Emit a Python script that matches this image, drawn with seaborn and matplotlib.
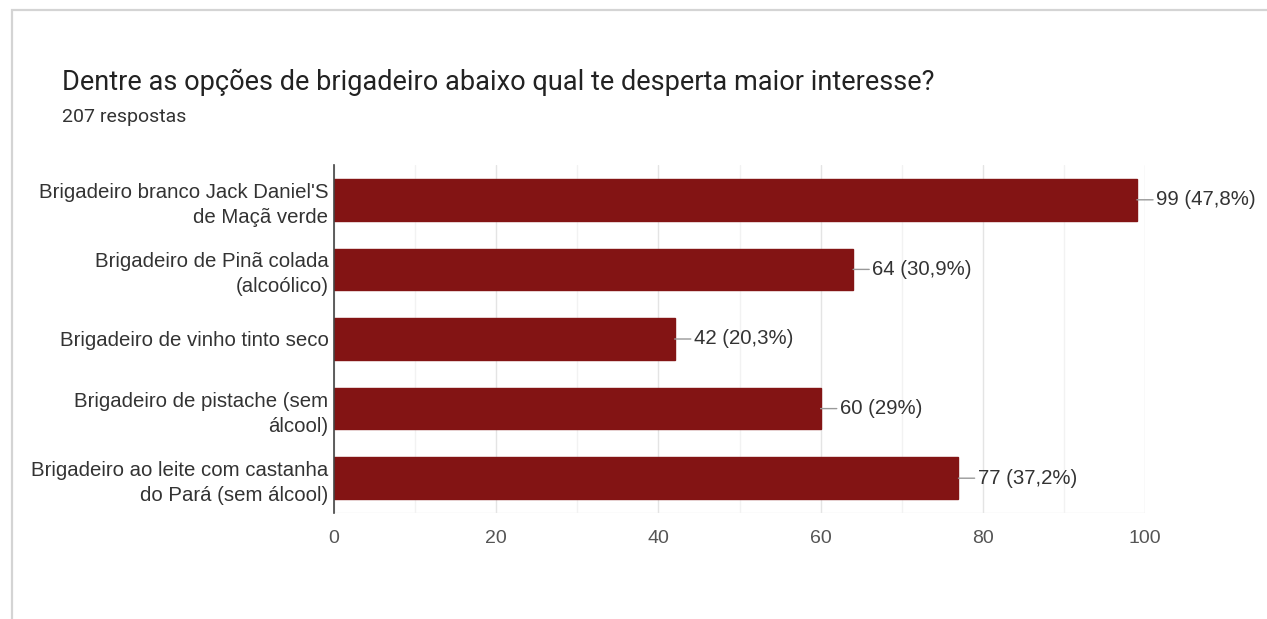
import matplotlib
matplotlib.use("Agg")
import matplotlib.pyplot as plt
import seaborn as sns
import pandas as pd
from matplotlib.patches import Rectangle

categories = [
    "Brigadeiro branco Jack Daniel'S\nde Maçã verde",
    "Brigadeiro de Pinã colada\n(alcoólico)",
    "Brigadeiro de vinho tinto seco",
    "Brigadeiro de pistache (sem\nálcool)",
    "Brigadeiro ao leite com castanha\ndo Pará (sem álcool)",
]
counts = [99, 64, 42, 60, 77]
percent_labels = ["47,8%", "30,9%", "20,3%", "29%", "37,2%"]
x_ticks = [0, 20, 40, 60, 80, 100]

title = "Dentre as opções de brigadeiro abaixo qual te desperta maior interesse?"
subtitle = "207 respostas"

sns.set_theme(style="white")
plt.rcParams["font.family"] = ["Liberation Sans", "DejaVu Sans"]
heading_font = ["Roboto", "DejaVu Sans"]

df = pd.DataFrame({"categoria": categories, "respostas": counts})

fig = plt.figure(figsize=(12.67, 6.19), dpi=100)
fig.patch.set_facecolor("white")

# card outline
fig.add_artist(Rectangle((12 / 1267, -0.05), 1.2, 1 - 10 / 619 + 0.05,
                         transform=fig.transFigure, fill=False,
                         edgecolor="#d4d4d4", linewidth=1.6))

ax = fig.add_axes([334 / 1267, 1 - 513 / 619, (1145 - 334) / 1267, (513 - 165) / 619])

bar_color = "#831414"
sns.barplot(data=df, x="respostas", y="categoria", orient="h",
            color=bar_color, width=0.6, ax=ax, saturation=1)
for p in ax.patches:
    p.set_edgecolor(bar_color)

ax.set_xlim(0, 100)
ax.set_ylim(4.5, -0.5)
ax.set_xticks(x_ticks)
ax.set_xticks(range(10, 100, 20), minor=True)
ax.set_xticklabels([str(t) for t in x_ticks], fontsize=14, color="#555555")
ax.tick_params(axis="x", which="both", length=0, pad=12)
ax.tick_params(axis="y", length=0, pad=4, labelsize=14.7, labelcolor="#333333")
for lbl in ax.get_yticklabels():
    lbl.set_linespacing(1.4)
ax.grid(axis="x", which="major", color="#e4e4e4", linewidth=1)
ax.grid(axis="x", which="minor", color="#f2f2f2", linewidth=1)
ax.set_axisbelow(True)
ax.set_xlabel("")
ax.set_ylabel("")
for side in ["top", "right", "bottom"]:
    ax.spines[side].set_visible(False)
ax.spines["left"].set_color("#444444")
ax.spines["left"].set_linewidth(1.2)
ax.plot([0, 1], [0, 0], transform=ax.transAxes, color="#eeeeee", lw=1, zorder=0)

for i, (v, pct) in enumerate(zip(counts, percent_labels)):
    ax.annotate(f"{v} ({pct})", xy=(v, i), xytext=(14, 0), textcoords="offset points",
                ha="left", va="center", fontsize=14.7, color="#333333",
                arrowprops=dict(arrowstyle="-", color="#999999", lw=1,
                                shrinkA=0, shrinkB=0, relpos=(0, 0.5)))

fig.text(62 / 1267, 1 - 82 / 619, title, fontsize=19.5, color="#222222",
         ha="left", va="center", family=heading_font)
fig.text(62 / 1267, 1 - 117 / 619, subtitle, fontsize=14, color="#333333",
         ha="left", va="center", family=heading_font)

fig.savefig("out.png", dpi=100, facecolor="white")
